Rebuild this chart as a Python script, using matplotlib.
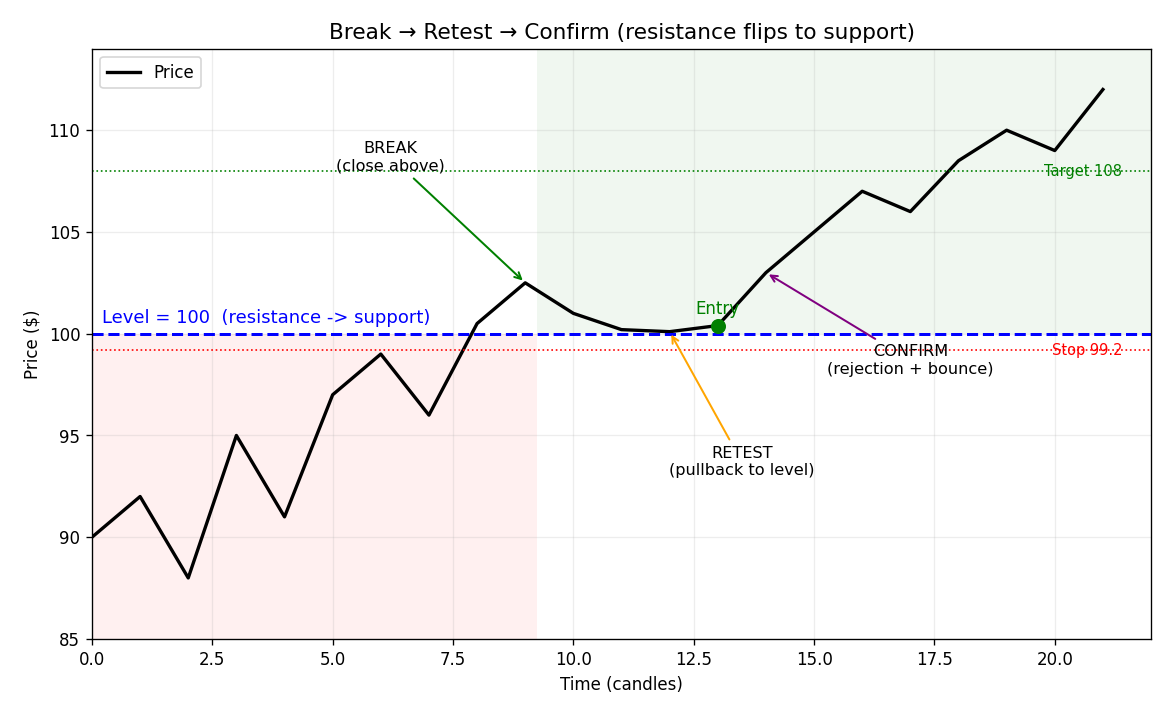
import matplotlib
matplotlib.use("Agg")
import matplotlib.pyplot as plt

# Datos de precio por vela
velas = list(range(22))
precios = [90, 92, 88, 95, 91, 97, 99, 96, 100.5, 102.5, 101, 100.2, 100.1, 100.4,
           103, 105, 107, 106, 108.5, 110, 109, 112]

nivel = 100
target = 108
stop = 99.2
idx_break = 9
idx_retest = 12
idx_entry = 13
idx_confirm = 14
corte_zona = 9.25

fig, ax = plt.subplots(figsize=(9.75, 5.96), dpi=120)
fig.subplots_adjust(left=0.0786, right=0.9838, bottom=0.1063, top=0.9315)

# zonas sombreadas
ax.fill_between([0, corte_zona], 85, nivel, color="red", alpha=0.06, linewidth=0)
ax.fill_between([corte_zona, 22], nivel, 114, color="green", alpha=0.06, linewidth=0)

ax.plot(velas, precios, color="black", linewidth=2, label="Price")

ax.axhline(nivel, color="blue", linestyle="--", linewidth=1.8)
ax.axhline(target, color="green", linestyle=":", linewidth=1)
ax.axhline(stop, color="red", linestyle=":", linewidth=1)

ax.text(0.2, 100.55, "Level = 100  (resistance -> support)", color="blue", fontsize=10.8)
ax.text(21.4, target, "Target 108", color="green", fontsize=8.8, ha="right", va="center")
ax.text(21.4, stop, "Stop 99.2", color="red", fontsize=8.8, ha="right", va="center")

# entrada
ax.plot(velas[idx_entry], precios[idx_entry], "o", color="green", markersize=8)
ax.text(velas[idx_entry], precios[idx_entry] + 0.4, "Entry", color="green",
        fontsize=10, ha="center", va="bottom")

# anotaciones
ax.annotate("BREAK\n(close above)", xy=(velas[idx_break], precios[idx_break]),
            xytext=(6.2, 108.7), ha="center", va="center", fontsize=9.7,
            arrowprops=dict(arrowstyle="->", color="green", lw=1.2))
ax.annotate("RETEST\n(pullback to level)", xy=(velas[idx_retest], precios[idx_retest]),
            xytext=(13.5, 93.7), ha="center", va="center", fontsize=9.7,
            arrowprops=dict(arrowstyle="->", color="orange", lw=1.2))
ax.annotate("CONFIRM\n(rejection + bounce)", xy=(velas[idx_confirm], precios[idx_confirm]),
            xytext=(17.0, 98.7), ha="center", va="center", fontsize=9.7,
            arrowprops=dict(arrowstyle="->", color="purple", lw=1.2))

ax.set_xlim(0, 22)
ax.set_ylim(85, 114)
ax.set_title("Break \u2192 Retest \u2192 Confirm (resistance flips to support)", fontsize=13)
ax.set_xlabel("Time (candles)")
ax.set_ylabel("Price ($)")
ax.grid(True, alpha=0.22)
ax.legend(loc="upper left")

fig.savefig("out.png")
